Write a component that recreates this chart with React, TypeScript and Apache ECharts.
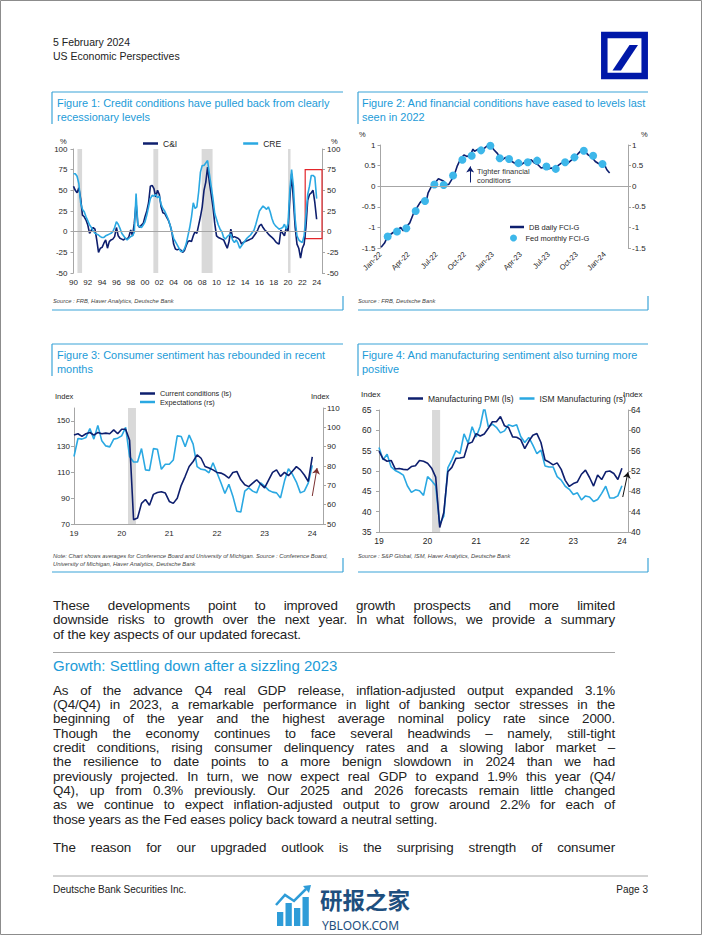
import React, { useEffect, useRef } from 'react';
import * as echarts from 'echarts';

const FONT = "'Liberation Sans', Arial, sans-serif";
const NAVY = '#0E1F6E';
const SKY = '#2AA8E2';
const DOT = '#3DB7EA';
const AXIS = '#A6A6A6';
const BAND = '#D9D9D9';
const TITLE_BLUE = '#1C9BD8';
const BOX_BLUE = '#3BA4D8';
const LABEL = '#262626';

// ---------- Figure 1: quarterly, 1990Q1 .. 2024Q1 ----------
const fig1StartYear = 1990;
const ciValues = [
  55, 50, 47, 53, 40, 20, 18, 14, 8, -2, 2, 5, 3, -10, -25, -20,
  -19, -14, -10, -20, -12, -10, -9, -6, 5, -5, -8, -9, -10, -8, -9, -6,
  2, -5, 10, 35, 8, 5, 8, 10, 18, 25, 35, 55, 56, 52, 42, 50,
  45, 30, 23, 22, 18, 14, 8, 0, -15, -21, -22, -21, -22, -25, -23, -17,
  -12, -11, -12, -5, 0, -2, 8, 18, 30, 50, 60, 78, 60, 45, 30, 10,
  -5, -7, -8, -9, -10, -15, -20, -12, 3, -7, -6, -7, -8, -10, -15, -13,
  -12, -11, -10, -9, -8, -5, -2, 2, 7, 9, 5, 2, 0, -3, -5, -7,
  -9, -12, -14, -15, 2, -2, -5, 5, 0, 40, 70, 38, 5, -15, -20, -32,
  -20, -15, 5, 38, 45, 47, 50, 35, 15,
];
const creValues = [
  70, 70, 67, 58, 35, 27, 24, 18, 13, 8, 5, 1, -2, -3, -4, -6,
  -7, -7, -5, -4, -3, -2, 0, 5, 12, 9, 4, -2, -5, -8, -10, -8,
  -6, -5, -1, 46, 8, 6, 5, 8, 12, 20, 30, 40, 44, 43, 45, 41,
  43, 33, 28, 25, 20, 15, 8, 0, -8, -12, -16, -20, -24, -24, -21, -15,
  -5, 5, 18, 35, 28, 30, 48, 72, 80, 80, 83, 86, 70, 55, 40, 22,
  15, 8, 3, 0, -7, -9, -6, -4, -3, -10, -13, -10, -14, -20, -17, -14,
  -11, -8, -6, -4, -1, 2, 9, 17, 25, 28, 31, 29, 27, 30, 24, 16,
  10, 7, 5, 3, 4, 5, 9, 3, 10, 50, 75, 55, 15, -5, -10, -12,
  -13, -5, 20, 45, 55, 68, 68, 66, 40,
];
const fig1Recessions = [
  [1990.55, 1991.2],
  [2001.17, 2001.85],
  [2007.92, 2009.45],
  [2020.0, 2020.35],
];
const fig1Highlight = { from: 2022.4, to: 2024.75, top: 75, bottom: -8.5 };

// ---------- Figure 2 ----------
const dbDaily: [string, number][] = [
  ['2022-01-03', -1.48], ['2022-01-14', -1.38], ['2022-01-25', -1.2], ['2022-02-05', -1.16],
  ['2022-02-16', -1.1], ['2022-02-25', -1.06], ['2022-03-06', -1.0], ['2022-03-14', -1.08],
  ['2022-03-25', -0.98], ['2022-04-05', -0.89], ['2022-04-16', -0.68], ['2022-04-25', -0.56],
  ['2022-05-08', -0.4], ['2022-05-19', -0.32], ['2022-05-27', -0.4], ['2022-06-04', -0.16],
  ['2022-06-15', 0.0], ['2022-06-26', 0.08], ['2022-07-07', 0.18], ['2022-07-16', 0.15],
  ['2022-07-24', 0.12], ['2022-08-01', 0.04], ['2022-08-10', 0.04], ['2022-08-21', 0.18],
  ['2022-08-30', 0.32], ['2022-09-07', 0.48], ['2022-09-18', 0.66], ['2022-09-29', 0.76],
  ['2022-10-09', 0.72], ['2022-10-20', 0.76], ['2022-10-28', 0.9], ['2022-11-03', 0.85],
  ['2022-11-15', 0.9], ['2022-11-26', 0.85], ['2022-12-06', 0.93], ['2022-12-17', 1.0],
  ['2022-12-25', 0.98], ['2023-01-06', 0.88], ['2023-01-17', 0.79], ['2023-01-25', 0.68],
  ['2023-02-02', 0.64], ['2023-02-13', 0.7], ['2023-02-22', 0.64], ['2023-03-03', 0.6],
  ['2023-03-14', 0.55], ['2023-03-22', 0.58], ['2023-04-02', 0.52], ['2023-04-13', 0.58],
  ['2023-04-24', 0.6], ['2023-05-05', 0.64], ['2023-05-16', 0.56], ['2023-05-27', 0.52],
  ['2023-06-07', 0.44], ['2023-06-18', 0.46], ['2023-06-29', 0.42], ['2023-07-10', 0.44],
  ['2023-07-21', 0.4], ['2023-08-01', 0.5], ['2023-08-12', 0.56], ['2023-08-23', 0.6],
  ['2023-09-03', 0.56], ['2023-09-15', 0.64], ['2023-09-26', 0.72], ['2023-10-06', 0.79],
  ['2023-10-17', 0.88], ['2023-10-28', 0.84], ['2023-11-08', 0.76], ['2023-11-20', 0.7],
  ['2023-12-01', 0.6], ['2023-12-11', 0.55], ['2023-12-22', 0.52], ['2024-01-03', 0.48],
  ['2024-01-08', 0.4], ['2024-01-17', 0.32],
];
const fedDates = [
  '2022-01-24', '2022-02-24', '2022-03-24', '2022-04-24', '2022-05-24', '2022-06-24',
  '2022-07-24', '2022-08-24', '2022-09-24', '2022-10-24', '2022-11-24', '2022-12-24',
  '2023-01-24', '2023-02-24', '2023-03-24', '2023-04-24', '2023-05-24', '2023-06-24',
  '2023-07-24', '2023-08-24', '2023-09-24', '2023-10-24', '2023-11-24', '2023-12-24',
];
const fedValues = [
  -1.22, -1.1, -1.02, -0.6, -0.36, 0.04, 0.03, 0.26, 0.64, 0.74, 0.87, 0.98,
  0.68, 0.66, 0.56, 0.58, 0.62, 0.48, 0.42, 0.58, 0.7, 0.86, 0.74, 0.54,
];
const monthNames = ['Jan', 'Feb', 'Mar', 'Apr', 'May', 'Jun', 'Jul', 'Aug', 'Sep', 'Oct', 'Nov', 'Dec'];
const fig2Arrow = { date: '2022-10-19', from: 0.09, to: 0.48 };

// ---------- Figure 3: monthly Jan-19 .. Jan-24 ----------
const currentConditions = [
  139, 140, 138, 140, 141, 139, 141, 140, 140.5, 140, 143, 140,
  143.5, 143.5, 135, 73.3, 74.6, 86, 89, 84.5, 93, 94.5, 95, 94,
  87.5, 86, 90, 100, 107, 114.6, 118.5, 123.7, 121, 114.6, 113.4, 112,
  110, 109.5, 108, 105.6, 110, 110.8, 104.3, 100.4, 99, 101.7, 104.3, 101,
  98, 104, 110, 112, 107, 110, 107.5, 111, 114.5, 112, 108, 103,
  122,
];
const expectations = [
  84.9, 94.2, 93.9, 94.7, 99.4, 93.9, 101, 93, 90.4, 89.9, 93.9, 94.4,
  95.6, 100, 84.9, 82.1, 82.1, 89, 78, 77.7, 89, 88.7, 78.3, 80.9,
  80.9, 83.1, 95.6, 95.3, 90, 96, 91.3, 79.7, 78.3, 78, 76.5, 81.7,
  76.5, 71.3, 65.8, 70.5, 64.4, 56.6, 56.2, 67, 68.7, 67, 66.1, 71.3,
  69.6, 67.5, 66.5, 66.1, 63.5, 72.2, 78.6, 75.7, 71.7, 66.1, 67, 71.3,
  80.3,
];
const fig3Recession = [13.6, 15.6];
const fig3Arrow = { x1: 60, y1: 91.7, x2: 61.2, y2: 113.4 };

// ---------- Figure 4 ----------
const manufacturingPMI = [
  54.9, 53.0, 52.4, 52.6, 50.5, 50.6, 50.4, 50.3, 51.1, 51.3, 52.6, 52.4,
  51.9, 50.7, 48.5, 36.1, 39.8, 49.8, 50.9, 53.1, 53.2, 53.4, 56.7, 57.1,
  59.2, 58.6, 59.1, 60.5, 62.1, 62.1, 63.4, 61.1, 60.7, 58.4, 58.3, 57.7,
  55.5, 57.3, 58.8, 59.2, 57.0, 52.7, 52.2, 51.5, 52.0, 50.4, 47.7, 46.2,
  46.9, 47.3, 49.2, 50.2, 48.4, 46.3, 49.0, 47.9, 49.8, 50.0, 49.4, 47.9,
  50.7,
];
const ismManufacturing = [
  56.6, 54.2, 55.3, 52.8, 52.1, 51.7, 51.2, 49.1, 47.8, 48.3, 48.1, 47.2,
  50.9, 50.1, 49.1, 41.5, 43.1, 52.6, 54.2, 56.0, 55.4, 59.3, 57.5, 60.7,
  58.7, 60.8, 64.7, 60.7, 61.2, 60.6, 59.5, 59.9, 61.1, 60.8, 61.1, 58.8,
  57.6, 58.6, 57.1, 55.4, 56.1, 53.0, 52.8, 52.8, 50.9, 50.2, 49.0, 48.4,
  47.4, 47.7, 46.3, 47.1, 46.9, 46.0, 46.4, 47.6, 49.0, 46.7, 46.7, 47.1,
  49.1,
];
const fig4Recession = [13.1, 15.1];
const fig4Arrow = { x1: 60.2, y1: 43.6, x2: 61.5, y2: 49.7 };

// ---------- Text ----------
const para1 = [
  'These developments point to improved growth prospects and more limited',
  'downside risks to growth over the next year. In what follows, we provide a summary',
  'of the key aspects of our updated forecast.',
];
const heading = 'Growth: Settling down after a sizzling 2023';
const para2 = [
  'As of the advance Q4 real GDP release, inflation-adjusted output expanded 3.1%',
  '(Q4/Q4) in 2023, a remarkable performance in light of banking sector stresses in the',
  'beginning of the year and the highest average nominal policy rate since 2000.',
  'Though the economy continues to face several headwinds \u2013 namely, still-tight',
  'credit conditions, rising consumer delinquency rates and a slowing labor market \u2013',
  'the resilience to date points to a more benign slowdown in 2024 than we had',
  'previously projected. In turn, we now expect real GDP to expand 1.9% this year (Q4/',
  'Q4), up from 0.3% previously. Our 2025 and 2026 forecasts remain little changed',
  'as we continue to expect inflation-adjusted output to grow around 2.2% for each of',
  'those years as the Fed eases policy back toward a neutral setting.',
];
const para3 = ['The reason for our upgraded outlook is the surprising strength of consumer'];

const toMonthIndex = (s: string) => {
  const [y, m, d] = s.split('-').map(Number);
  return (y - 2022) * 12 + (m - 1) + (d - 1) / 30;
};

const txt = (text: string, x: number, y: number, size: number, fill: string, extra: any = {}) => ({
  type: 'text', x, y, silent: true,
  style: { text, fontSize: size, fontFamily: FONT, fill, verticalAlign: 'middle', align: 'left', ...extra },
});
const ln = (x1: number, y1: number, x2: number, y2: number, stroke: string, lineWidth = 1) => ({
  type: 'line', silent: true, shape: { x1, y1, x2, y2 }, style: { stroke, lineWidth },
});

const boxes = [
  { L: 52, R: 343, T: 92, B: 310 },
  { L: 358, R: 648, T: 92, B: 310 },
  { L: 52, R: 343, T: 344, B: 572 },
  { L: 358, R: 648, T: 344, B: 572 },
];

const TITLE_SIZE = 10.95;

function buildGraphics() {
  const g: any[] = [];
  g.push({ type: 'rect', silent: true, shape: { x: 0.5, y: 0.5, width: 701, height: 934 }, style: { fill: 'none', stroke: '#8C8C8C', lineWidth: 1 } });
  // header
  g.push(txt('5 February 2024', 53, 42, 10.5, '#222'));
  g.push(txt('US Economic Perspectives', 53, 56, 10.5, '#222'));
  // logo
  g.push({ type: 'rect', silent: true, shape: { x: 604.3, y: 35, width: 40.4, height: 41 }, style: { fill: 'none', stroke: '#0018A8', lineWidth: 6.5 } });
  g.push({ type: 'polygon', silent: true, shape: { points: [[612.5, 70.5], [621, 70.5], [638, 45], [629.5, 45]] }, style: { fill: '#0018A8' } });
  // boxes
  boxes.forEach(({ L, R, T, B }) => {
    g.push(ln(L, T, R, T, BOX_BLUE, 1.2));
    g.push(ln(L, T, L, T + 32, BOX_BLUE, 1.2));
    g.push(ln(L, B, R, B, BOX_BLUE, 1.2));
    g.push(ln(R, B - 14, R, B, BOX_BLUE, 1.2));
  });
  // titles
  g.push(txt('Figure 1: Credit conditions have pulled back from clearly', 57, 102.5, TITLE_SIZE, TITLE_BLUE));
  g.push(txt('recessionary levels', 57, 116.5, TITLE_SIZE, TITLE_BLUE));
  g.push(txt('Figure 2: And financial conditions have eased to levels last', 362, 102.5, TITLE_SIZE, TITLE_BLUE));
  g.push(txt('seen in 2022', 362, 116.5, TITLE_SIZE, TITLE_BLUE));
  g.push(txt('Figure 3: Consumer sentiment has rebounded in recent', 57, 355, TITLE_SIZE, TITLE_BLUE));
  g.push(txt('months', 57, 369, TITLE_SIZE, TITLE_BLUE));
  g.push(txt('Figure 4: And manufacturing sentiment also turning more', 362, 355, TITLE_SIZE, TITLE_BLUE));
  g.push(txt('positive', 362, 369, TITLE_SIZE, TITLE_BLUE));
  // unit labels
  g.push(txt('%', 60, 141, 7.5, LABEL));
  g.push(txt('%', 331, 141, 7.5, LABEL));
  g.push(txt('%', 359, 134, 7.5, LABEL));
  g.push(txt('%', 641, 134, 7.5, LABEL));
  g.push(txt('Index', 55, 396, 7.5, LABEL));
  g.push(txt('Index', 311, 396, 7.5, LABEL));
  g.push(txt('Index', 361, 394, 8, LABEL));
  g.push(txt('Index', 623, 394, 8, LABEL));
  // annotation
  g.push(txt('Tighter financial', 477, 171, 7.5, '#333'));
  g.push(txt('conditions', 477, 180, 7.5, '#333'));
  // sources
  const src = { fontStyle: 'italic' };
  g.push(txt('Source : FRB, Haver Analytics, Deutsche Bank', 53, 300.5, 5.8, '#444', src));
  g.push(txt('Source : FRB, Deutsche Bank', 358, 300.5, 5.8, '#444', src));
  g.push(txt('Note: Chart shows averages for Conference Board and University of Michigan. Source : Conference Board,', 53, 556, 5.8, '#444', src));
  g.push(txt('University of Michigan, Haver Analytics, Deutsche Bank', 53, 563.5, 5.8, '#444', src));
  g.push(txt('Source : S&P Global, ISM, Haver Analytics, Deutsche Bank', 358, 555.5, 5.8, '#444', src));
  // footer
  g.push(ln(53, 876, 648, 876, '#A6A6A6', 1));
  g.push(txt('Deutsche Bank Securities Inc.', 53, 889, 10, '#222'));
  g.push(txt('Page 3', 648, 889, 10, '#222', { align: 'right' }));
  // watermark
  const wmBars = [[277, 912], [285.5, 903], [294, 908], [302.5, 897]];
  wmBars.forEach(([x, top]) => {
    g.push({ type: 'rect', silent: true, shape: { x, y: top, width: 6.3, height: 926 - top }, style: { fill: '#2E9CD8' } });
  });
  g.push({ type: 'polyline', silent: true, shape: { points: [[276, 905], [285, 895], [294, 901], [306, 889]] }, style: { stroke: '#2E9CD8', lineWidth: 2.5, fill: 'none' } });
  g.push({ type: 'polygon', silent: true, shape: { points: [[303, 886], [311, 885], [309, 893]] }, style: { fill: '#2E9CD8' } });
  g.push(txt('\u7814\u62a5\u4e4b\u5bb6', 320, 898.5, 22.5, '#1E4F7E', { fontFamily: "'Noto Sans CJK SC', sans-serif", fontWeight: 'bold' }));
  g.push(txt('YBLOOK.COM', 322, 925.5, 12, '#1E4F7E', { fontFamily: "'Noto Sans', sans-serif" }));
  return g;
}

function yAx(grid: number, pos: 'left' | 'right', min: number, max: number, interval: number, margin: number, extra: any = {}) {
  return {
    type: 'value', gridIndex: grid, position: pos, min, max, interval,
    splitLine: { show: false },
    axisLine: { show: true, lineStyle: { color: AXIS, width: 1 } },
    axisTick: { show: true, length: 3, lineStyle: { color: AXIS } },
    axisLabel: { fontSize: 8, color: LABEL, margin, fontFamily: FONT, ...(extra.axisLabel || {}) },
    ...(extra.rest || {}),
  };
}

function buildOption() {
  const q = (i: number) => fig1StartYear + i / 4;
  const zeroLine = {
    silent: true, symbol: ['none', 'none'], label: { show: false },
    lineStyle: { color: AXIS, width: 1, type: 'solid' },
    data: [{ yAxis: 0 }],
  };
  const arrowLine = (color: string, from: number[], to: number[]) => ({
    silent: true, symbol: ['none', 'arrow'], symbolSize: 6, label: { show: false },
    lineStyle: { color, width: 1, type: 'solid' },
    data: [[{ coord: from }, { coord: to }]],
  });
  return {
    animation: false,
    textStyle: { fontFamily: FONT },
    grid: [
      { left: 73.5, top: 149, width: 248.5, height: 124 },
      { left: 380.5, top: 145, width: 247.5, height: 103 },
      { left: 74, top: 408, width: 249, height: 116 },
      { left: 379, top: 410, width: 249, height: 122 },
    ],
    xAxis: [
      {
        gridIndex: 0, type: 'value', min: 1990, max: 2024.75, interval: 2,
        axisLine: { show: false }, axisTick: { show: false }, splitLine: { show: false },
        axisLabel: { fontSize: 8, color: LABEL, margin: 5, showMaxLabel: false, formatter: (v: number) => String(Math.round(v) % 100).padStart(2, '0') },
      },
      {
        gridIndex: 1, type: 'value', min: 0, max: 26.5, interval: 3,
        axisLine: { show: false }, axisTick: { show: false }, splitLine: { show: false },
        axisLabel: {
          fontSize: 7.5, color: LABEL, margin: 5, rotate: 45, showMaxLabel: false,
          formatter: (v: number) => { const m = Math.round(v); return monthNames[m % 12] + '-' + (22 + Math.floor(m / 12)); },
        },
      },
      {
        gridIndex: 2, type: 'value', min: 0, max: 62.7, interval: 12,
        axisLine: { show: true, onZero: false, lineStyle: { color: AXIS } }, axisTick: { show: false }, splitLine: { show: false },
        axisLabel: { fontSize: 8, color: LABEL, margin: 5, showMaxLabel: false, formatter: (v: number) => String(19 + Math.round(v / 12)) },
      },
      {
        gridIndex: 3, type: 'value', min: 0, max: 61.5, interval: 12,
        axisLine: { show: true, onZero: false, lineStyle: { color: AXIS } }, axisTick: { show: false }, splitLine: { show: false },
        axisLabel: { fontSize: 8.5, color: LABEL, margin: 4, showMaxLabel: false, formatter: (v: number) => String(19 + Math.round(v / 12)) },
      },
    ],
    yAxis: [
      yAx(0, 'left', -50, 100, 25, 6),
      yAx(0, 'right', -50, 100, 25, 5),
      yAx(1, 'left', -1.5, 1, 0.5, 5),
      yAx(1, 'right', -1.5, 1, 0.5, 4),
      yAx(2, 'left', 70, 160, 20, 4, { axisLabel: { showMaxLabel: false } }),
      yAx(2, 'right', 50, 110, 10, 4),
      yAx(3, 'left', 35, 65, 5, 5, { axisLabel: { fontSize: 8.5 }, rest: { offset: 2.5 } }),
      yAx(3, 'right', 40, 64, 4, 3, { axisLabel: { fontSize: 8.5 } }),
    ],
    legend: [
      {
        data: ['C&I', 'CRE'], left: 138, top: 134, icon: 'rect', itemWidth: 15, itemHeight: 2.5, itemGap: 66,
        textStyle: { fontSize: 8.5, color: LABEL, fontFamily: FONT }, selectedMode: false,
      },
      {
        data: ['DB daily FCI-G'], left: 505, top: 218, icon: 'rect', itemWidth: 14, itemHeight: 2.5, itemGap: 2,
        textStyle: { fontSize: 7.5, color: LABEL, fontFamily: FONT }, selectedMode: false,
      },
      {
        data: [{ name: 'Fed monthly FCI-G', icon: 'circle' }], left: 505, top: 229, itemWidth: 14, itemHeight: 7, itemGap: 2,
        textStyle: { fontSize: 7.5, color: LABEL, fontFamily: FONT }, selectedMode: false,
      },
      {
        data: ['Current conditions (ls)', 'Expectations (rs)'], orient: 'vertical', left: 135, top: 385, icon: 'rect',
        itemWidth: 15, itemHeight: 2.5, itemGap: 1.5, textStyle: { fontSize: 7.3, color: LABEL, fontFamily: FONT }, selectedMode: false,
      },
      {
        data: ['Manufacturing PMI (ls)', 'ISM Manufacturing (rs)'], left: 403, top: 389, icon: 'rect',
        itemWidth: 15, itemHeight: 2.5, itemGap: 6, textStyle: { fontSize: 8.5, color: LABEL, fontFamily: FONT }, selectedMode: false,
      },
    ],
    series: [
      // Figure 1
      {
        type: 'line', xAxisIndex: 0, yAxisIndex: 0, data: [], silent: true, z: 1,
        markArea: { silent: true, itemStyle: { color: BAND }, data: fig1Recessions.map(([a, b]) => [{ xAxis: a }, { xAxis: b }]) },
        markLine: zeroLine,
      },
      {
        name: 'C&I', type: 'line', xAxisIndex: 0, yAxisIndex: 0, showSymbol: false, z: 3,
        lineStyle: { color: NAVY, width: 1.6 }, itemStyle: { color: NAVY },
        data: ciValues.map((v, i) => [q(i), v]),
      },
      {
        name: 'CRE', type: 'line', xAxisIndex: 0, yAxisIndex: 0, showSymbol: false, z: 3,
        lineStyle: { color: SKY, width: 1.6 }, itemStyle: { color: SKY },
        data: creValues.map((v, i) => [q(i), v]),
      },
      {
        type: 'line', xAxisIndex: 0, yAxisIndex: 0, data: [], silent: true, z: 5,
        markArea: {
          silent: true,
          itemStyle: { color: 'rgba(0,0,0,0)', borderColor: '#E3262B', borderWidth: 1.2 },
          data: [[{ coord: [fig1Highlight.from, fig1Highlight.top] }, { coord: [fig1Highlight.to, fig1Highlight.bottom] }]],
        },
      },
      // Figure 2
      {
        type: 'line', xAxisIndex: 1, yAxisIndex: 2, data: [], silent: true, z: 1,
        markLine: zeroLine,
      },
      {
        type: 'line', xAxisIndex: 1, yAxisIndex: 2, data: [], silent: true, z: 4,
        markLine: arrowLine(NAVY, [toMonthIndex(fig2Arrow.date), fig2Arrow.from], [toMonthIndex(fig2Arrow.date), fig2Arrow.to]),
      },
      {
        name: 'DB daily FCI-G', type: 'line', xAxisIndex: 1, yAxisIndex: 2, showSymbol: false, z: 3,
        lineStyle: { color: NAVY, width: 1.6 }, itemStyle: { color: NAVY },
        data: dbDaily.map(([d, v]) => [toMonthIndex(d), v]),
      },
      {
        name: 'Fed monthly FCI-G', type: 'scatter', xAxisIndex: 1, yAxisIndex: 2, symbolSize: 8, z: 4,
        itemStyle: { color: DOT, opacity: 1 },
        data: fedDates.map((d, i) => [toMonthIndex(d), fedValues[i]]),
      },
      // Figure 3
      {
        type: 'line', xAxisIndex: 2, yAxisIndex: 4, data: [], silent: true, z: 1,
        markArea: { silent: true, itemStyle: { color: BAND }, data: [[{ xAxis: fig3Recession[0] }, { xAxis: fig3Recession[1] }]] },
      },
      {
        name: 'Expectations (rs)', type: 'line', xAxisIndex: 2, yAxisIndex: 5, showSymbol: false, z: 3,
        lineStyle: { color: SKY, width: 1.6 }, itemStyle: { color: SKY },
        data: expectations.map((v, i) => [i, v]),
      },
      {
        name: 'Current conditions (ls)', type: 'line', xAxisIndex: 2, yAxisIndex: 4, showSymbol: false, z: 3,
        lineStyle: { color: NAVY, width: 1.6 }, itemStyle: { color: NAVY },
        data: currentConditions.map((v, i) => [i, v]),
      },
      {
        type: 'line', xAxisIndex: 2, yAxisIndex: 4, data: [], silent: true, z: 5,
        markLine: arrowLine('#7B3030', [fig3Arrow.x1, fig3Arrow.y1], [fig3Arrow.x2, fig3Arrow.y2]),
      },
      // Figure 4
      {
        type: 'line', xAxisIndex: 3, yAxisIndex: 6, data: [], silent: true, z: 1,
        markArea: { silent: true, itemStyle: { color: BAND }, data: [[{ xAxis: fig4Recession[0] }, { xAxis: fig4Recession[1] }]] },
      },
      {
        name: 'ISM Manufacturing (rs)', type: 'line', xAxisIndex: 3, yAxisIndex: 7, showSymbol: false, z: 3,
        lineStyle: { color: SKY, width: 1.6 }, itemStyle: { color: SKY },
        data: ismManufacturing.map((v, i) => [i, v]),
      },
      {
        name: 'Manufacturing PMI (ls)', type: 'line', xAxisIndex: 3, yAxisIndex: 6, showSymbol: false, z: 3,
        lineStyle: { color: NAVY, width: 1.6 }, itemStyle: { color: NAVY },
        data: manufacturingPMI.map((v, i) => [i, v]),
      },
      {
        type: 'line', xAxisIndex: 3, yAxisIndex: 6, data: [], silent: true, z: 5,
        markLine: arrowLine('#111', [fig4Arrow.x1, fig4Arrow.y1], [fig4Arrow.x2, fig4Arrow.y2]),
      },
    ],
    graphic: buildGraphics(),
  };
}

const BODY_SIZE = 13.4;
const LINE_H = 14.3;

function Line({ text, y, justify }: { text: string; y: number; justify: boolean }) {
  return (
    <div
      style={{
        position: 'absolute', left: 53, top: y - LINE_H / 2, width: 562, height: LINE_H, lineHeight: LINE_H + 'px',
        fontSize: BODY_SIZE, fontFamily: FONT, color: '#222', letterSpacing: '-0.12px',
        textAlign: justify ? 'justify' : 'left', textAlignLast: justify ? 'justify' : 'left',
      } as React.CSSProperties}
    >
      {text}
    </div>
  );
}

export default function App() {
  const ref = useRef<HTMLDivElement>(null);
  useEffect(() => {
    if (!ref.current) return;
    const chart = echarts.init(ref.current, null, { renderer: 'svg', width: 702, height: 935 });
    chart.setOption(buildOption() as any);
    return () => chart.dispose();
  }, []);

  const p1y = [606, 620.5, 635];
  const p2y = para2.map((_, i) => 691 + i * 14.3);
  return (
    <div style={{ position: 'absolute', left: 0, top: 0, width: 702, height: 935, background: '#fff', overflow: 'hidden' }}>
      <div ref={ref} style={{ position: 'absolute', left: 0, top: 0, width: 702, height: 935 }} />
      {para1.map((t, i) => (
        <Line key={'a' + i} text={t} y={p1y[i]} justify={i < para1.length - 1} />
      ))}
      <div style={{ position: 'absolute', left: 53, top: 652, width: 562, height: 1, background: '#A6A6A6' }} />
      <div style={{ position: 'absolute', left: 53, top: 656, fontSize: 15, lineHeight: '19px', fontFamily: FONT, color: TITLE_BLUE, whiteSpace: 'nowrap' }}>
        {heading}
      </div>
      {para2.map((t, i) => (
        <Line key={'b' + i} text={t} y={p2y[i]} justify={i < para2.length - 1} />
      ))}
      {para3.map((t, i) => (
        <Line key={'c' + i} text={t} y={848} justify={true} />
      ))}
    </div>
  );
}
